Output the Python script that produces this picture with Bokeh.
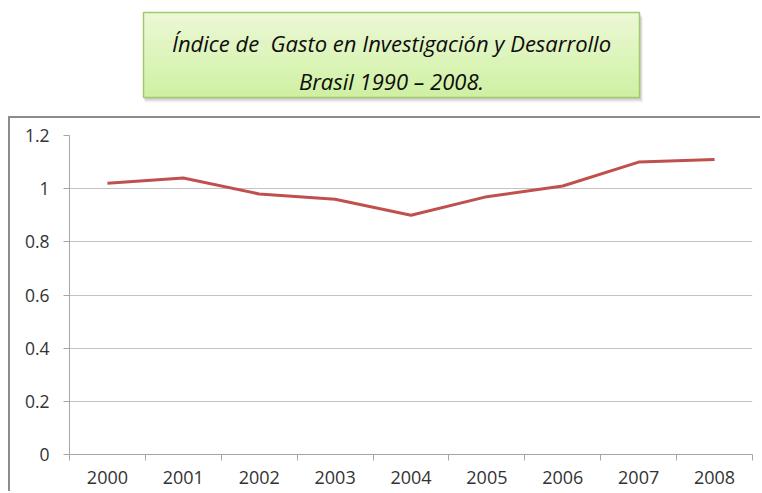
from bokeh.plotting import figure
from bokeh.layouts import column
from bokeh.models import Range1d, FixedTicker
from bokeh.embed import file_html
from bokeh.resources import INLINE

# ---- data ----
years = ["2000", "2001", "2002", "2003", "2004", "2005", "2006", "2007", "2008"]
index_values = [1.02, 1.04, 0.98, 0.96, 0.90, 0.97, 1.01, 1.10, 1.11]
y_ticks = [0, 0.2, 0.4, 0.6, 0.8, 1, 1.2]
y_tick_labels = ["0", "0.2", "0.4", "0.6", "0.8", "1", "1.2"]
title_lines = ["Índice de\u00a0 Gasto en Investigación y Desarrollo", "Brasil 1990 – 2008."]

FONT = "Open Sans"
PAGE_W = 762
TITLE_H = 116

# ---------------- title panel ----------------
t = figure(width=PAGE_W, height=TITLE_H, output_backend="svg", toolbar_location=None,
           x_range=Range1d(0, PAGE_W), y_range=Range1d(TITLE_H, 0),
           x_axis_type=None, y_axis_type=None,
           min_border=0, min_border_left=0, min_border_right=0,
           min_border_top=0, min_border_bottom=0)
t.frame_align = False
t.title.visible = False
t.outline_line_color = None
t.grid.visible = False
t.background_fill_color = "white"
t.border_fill_color = "white"

bx0, bx1, by0, by1 = 143, 639, 12, 97
# soft shadow
for k, a in [(5, 0.05), (3.5, 0.07), (2, 0.09)]:
    t.quad(left=bx0 + 1, right=bx1 + k * 0.7, top=by0 + k, bottom=by1 + k,
           fill_color="black", fill_alpha=a, line_color=None)
# vertical gradient
top_c = (0xec, 0xf8, 0xd6)
bot_c = (0xcf, 0xf1, 0xa2)
n = 40
lefts, rights, tops, bottoms, cols = [], [], [], [], []
for i in range(n):
    f = i / (n - 1)
    c = tuple(int(round(top_c[j] + (bot_c[j] - top_c[j]) * f)) for j in range(3))
    cols.append("#%02x%02x%02x" % c)
    lefts.append(bx0)
    rights.append(bx1)
    tops.append(by0 + (by1 - by0) * i / n)
    bottoms.append(by0 + (by1 - by0) * (i + 1) / n + 0.5)
t.quad(left=lefts, right=rights, top=tops, bottom=bottoms, fill_color=cols,
       line_color=None)
t.quad(left=[bx0], right=[bx1], top=[by0], bottom=[by1], fill_color=None,
       line_color="#a3c96f", line_width=1.5)
t.text(x=[(bx0 + bx1) / 2] * 2, y=[42, 80], text=title_lines,
       text_align="center", text_baseline="middle",
       text_font={"value": FONT}, text_font_style="italic",
       text_font_size="22px", text_color="#0d0d0d")

# ---------------- chart panel ----------------
W, H = PAGE_W - 10, 493 - TITLE_H - 2
p = figure(width=W, height=H, output_backend="svg", toolbar_location=None,
           x_range=Range1d(0, len(years)), y_range=Range1d(0, 1.2),
           min_border_left=59, min_border_right=10, min_border_top=17,
           min_border_bottom=39, margin=(0, 0, 0, 8),
           styles={"border-left": "2px solid #8c8c8c",
                   "border-top": "2px solid #8c8c8c"})
p.frame_align = False
p.title.visible = False
p.outline_line_color = None
p.background_fill_color = "white"
p.border_fill_color = "white"

p.xgrid.visible = False
p.ygrid.ticker = FixedTicker(ticks=y_ticks)
p.ygrid.grid_line_color = "#c4c4c4"
p.ygrid.grid_line_width = 1

centres = [i + 0.5 for i in range(len(years))]
edges = list(range(len(years) + 1))
xa = p.xaxis[0]
xa.ticker = FixedTicker(ticks=centres, minor_ticks=edges)
xa.major_label_overrides = {c: y for c, y in zip(centres, years)}
xa.major_tick_out = 0
xa.major_tick_in = 0
xa.minor_tick_out = 6
xa.minor_tick_in = 0
xa.minor_tick_line_color = "#a6a6a6"
xa.axis_line_color = "#a6a6a6"
xa.major_label_standoff = 10
xa.major_label_text_font = FONT
xa.major_label_text_font_size = "18px"
xa.major_label_text_color = "#333333"

ya = p.yaxis[0]
ya.ticker = FixedTicker(ticks=y_ticks)
ya.major_label_overrides = {v: s for v, s in zip(y_ticks, y_tick_labels)}
ya.major_tick_out = 6
ya.major_tick_in = 0
ya.major_tick_line_color = "#a6a6a6"
ya.minor_tick_line_color = None
ya.axis_line_color = "#a6a6a6"
ya.major_label_standoff = 14
ya.major_label_text_font = FONT
ya.major_label_text_font_size = "17.5px"
ya.major_label_text_color = "#333333"

p.line(x=centres, y=index_values, line_color="#c0504d", line_width=3)

layout = column(t, p)
open("out.html", "w").write(file_html(layout, INLINE))
